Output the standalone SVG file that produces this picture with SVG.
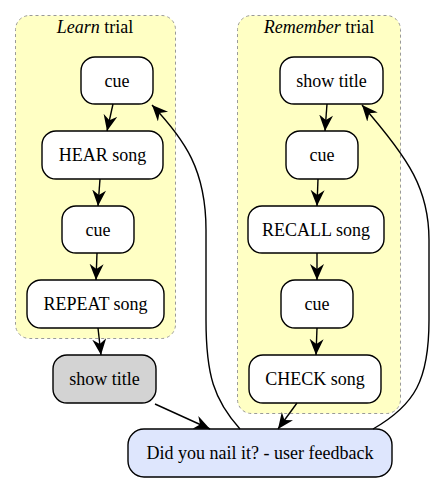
<svg xmlns="http://www.w3.org/2000/svg" width="435" height="483" viewBox="0 0 435 483">
<defs>
<style>
.cl{fill:#ffffc4;stroke:#999;stroke-width:1;stroke-dasharray:3,3}
.n{fill:#fff;stroke:#000;stroke-width:1.4}
.t{font-family:'Liberation Serif','Times New Roman',serif;font-size:18px;text-anchor:middle;fill:#000}
.e{fill:none;stroke:#000;stroke-width:1.4}
</style>
<marker id="v" markerWidth="18" markerHeight="16" refX="16" refY="7" orient="auto" markerUnits="userSpaceOnUse">
<path d="M0,0 L16,7 L0,14 L5,7 Z" fill="#000"/>
</marker>
</defs>
<g id="cluster_learn">
<rect class="cl" x="15.5" y="15.5" width="160" height="323" rx="14"/>
<text class="t" x="95" y="33"><tspan font-style="italic">Learn</tspan> trial</text>
</g>
<g id="cluster_remember">
<rect class="cl" x="237.5" y="15.5" width="163" height="398" rx="14"/>
<text class="t" x="319" y="33"><tspan font-style="italic">Remember</tspan> trial</text>
</g>
<g id="learn_cue1"><rect class="n" x="81" y="57" width="72" height="47" rx="14"/><text class="t" x="117" y="86.5">cue</text></g>
<g id="learn_hear"><rect class="n" x="42" y="131" width="121" height="48" rx="14"/><text class="t" x="102.5" y="161">HEAR song</text></g>
<g id="learn_cue2"><rect class="n" x="62" y="206" width="72" height="47" rx="14"/><text class="t" x="98" y="235.5">cue</text></g>
<g id="learn_repeat"><rect class="n" x="27" y="280" width="137" height="48" rx="14"/><text class="t" x="95.5" y="310">REPEAT song</text></g>
<g id="show_title_gray"><rect class="n" x="53" y="355" width="103" height="48" rx="14" style="fill:#d3d3d3"/><text class="t" x="104.5" y="385">show title</text></g>
<g id="feedback"><rect class="n" x="128" y="429" width="264" height="48" rx="16" style="fill:#dee6fd"/><text class="t" x="260" y="459">Did you nail it? - user feedback</text></g>
<g id="rem_show"><rect class="n" x="280" y="57" width="103" height="47" rx="14"/><text class="t" x="331.5" y="86.5">show title</text></g>
<g id="rem_cue1"><rect class="n" x="286" y="131" width="72" height="48" rx="14"/><text class="t" x="322" y="161">cue</text></g>
<g id="rem_recall"><rect class="n" x="248" y="206" width="136" height="47" rx="14"/><text class="t" x="316" y="235.5">RECALL song</text></g>
<g id="rem_cue2"><rect class="n" x="281" y="280" width="72" height="48" rx="14"/><text class="t" x="317" y="310">cue</text></g>
<g id="rem_check"><rect class="n" x="249" y="355" width="132" height="48" rx="14"/><text class="t" x="315" y="385">CHECK song</text></g>
<g id="edges">
<path class="e" d="M113,104 L107,131" marker-end="url(#v)"/>
<path class="e" d="M100,179 L98,206" marker-end="url(#v)"/>
<path class="e" d="M97,253 L96,280" marker-end="url(#v)"/>
<path class="e" d="M98,328 L101,355" marker-end="url(#v)"/>
<path class="e" d="M155,404 L210,429" marker-end="url(#v)"/>
<path class="e" d="M327,104 L325,131" marker-end="url(#v)"/>
<path class="e" d="M318,179 L317,206" marker-end="url(#v)"/>
<path class="e" d="M317,253 L317,280" marker-end="url(#v)"/>
<path class="e" d="M317,328 L316,355" marker-end="url(#v)"/>
<path class="e" d="M297,403 L278,429" marker-end="url(#v)"/>
<path class="e" d="M240,429 C214,400 206,375 206,320 L206,230 C206,170 185,140 152,105" marker-end="url(#v)"/>
<path class="e" d="M373,429 C415,405 429,380 429,320 L429,240 C429,190 410,160 362,105" marker-end="url(#v)"/>
</g>
</svg>
